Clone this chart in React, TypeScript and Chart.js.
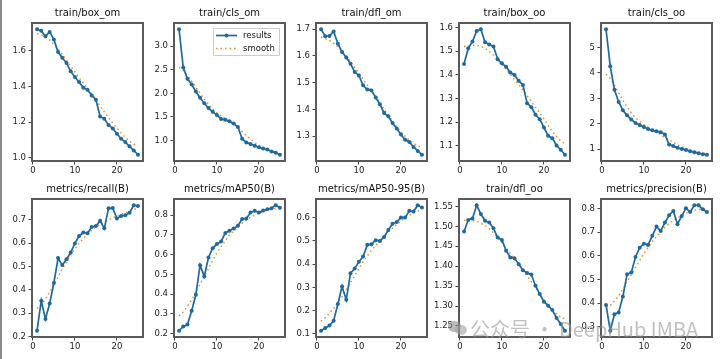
import React, { useEffect, useRef } from "react";
import { Chart, registerables } from "chart.js";
Chart.register(...registerables);

const epochs = [1, 2, 3, 4, 5, 6, 7, 8, 9, 10, 11, 12, 13, 14, 15, 16, 17, 18, 19, 20, 21, 22, 23, 24, 25];
const xTickValues = [0, 10, 20];

const boxOm = [1.722, 1.713, 1.683, 1.707, 1.664, 1.594, 1.562, 1.532, 1.486, 1.454, 1.425, 1.394, 1.382, 1.35, 1.326, 1.232, 1.219, 1.184, 1.165, 1.135, 1.107, 1.088, 1.064, 1.041, 1.017];
const boxOmSmooth = [1.697, 1.69, 1.678, 1.661, 1.638, 1.61, 1.58, 1.548, 1.515, 1.482, 1.45, 1.419, 1.389, 1.358, 1.325, 1.291, 1.257, 1.225, 1.194, 1.166, 1.139, 1.115, 1.093, 1.076, 1.066];

const clsOm = [3.36, 2.55, 2.31, 2.19, 2.04, 1.91, 1.79, 1.69, 1.61, 1.54, 1.46, 1.44, 1.41, 1.36, 1.29, 1.04, 0.96, 0.93, 0.89, 0.86, 0.83, 0.81, 0.77, 0.74, 0.7];
const clsOmSmooth = [2.55, 2.48, 2.38, 2.26, 2.13, 2.0, 1.88, 1.77, 1.67, 1.59, 1.52, 1.46, 1.4, 1.34, 1.27, 1.19, 1.11, 1.03, 0.96, 0.9, 0.85, 0.81, 0.77, 0.75, 0.73];

const dflOm = [1.7, 1.674, 1.675, 1.692, 1.646, 1.615, 1.594, 1.571, 1.54, 1.527, 1.49, 1.474, 1.471, 1.444, 1.419, 1.386, 1.374, 1.349, 1.328, 1.306, 1.286, 1.278, 1.259, 1.244, 1.23];
const dflOmSmooth = [1.67, 1.665, 1.658, 1.648, 1.634, 1.617, 1.598, 1.578, 1.557, 1.535, 1.513, 1.491, 1.469, 1.447, 1.424, 1.401, 1.378, 1.356, 1.335, 1.316, 1.299, 1.284, 1.272, 1.263, 1.258];

const boxOo = [1.445, 1.512, 1.54, 1.585, 1.592, 1.537, 1.528, 1.519, 1.465, 1.448, 1.434, 1.409, 1.399, 1.374, 1.357, 1.28, 1.263, 1.231, 1.212, 1.177, 1.142, 1.132, 1.101, 1.083, 1.062];
const boxOoSmooth = [1.519, 1.522, 1.525, 1.524, 1.52, 1.511, 1.498, 1.482, 1.463, 1.443, 1.423, 1.402, 1.38, 1.358, 1.335, 1.311, 1.287, 1.262, 1.238, 1.214, 1.186, 1.161, 1.139, 1.12, 1.108];

const clsOo = [5.72, 4.26, 3.34, 2.86, 2.53, 2.33, 2.17, 2.03, 1.95, 1.87, 1.79, 1.74, 1.7, 1.67, 1.58, 1.18, 1.12, 1.05, 1.01, 0.97, 0.92, 0.88, 0.84, 0.8, 0.78];
const clsOoSmooth = [3.95, 3.78, 3.52, 3.22, 2.93, 2.66, 2.43, 2.24, 2.09, 1.96, 1.86, 1.76, 1.66, 1.56, 1.46, 1.36, 1.26, 1.17, 1.09, 1.02, 0.96, 0.91, 0.87, 0.84, 0.83];

const recall = [0.224, 0.353, 0.274, 0.341, 0.429, 0.536, 0.506, 0.531, 0.56, 0.599, 0.631, 0.646, 0.643, 0.67, 0.674, 0.696, 0.664, 0.75, 0.751, 0.706, 0.717, 0.72, 0.731, 0.763, 0.76];
const recallSmooth = [0.32, 0.335, 0.36, 0.39, 0.42, 0.455, 0.49, 0.52, 0.55, 0.575, 0.6, 0.62, 0.64, 0.655, 0.67, 0.68, 0.69, 0.7, 0.71, 0.715, 0.725, 0.73, 0.738, 0.745, 0.748];

const map50 = [0.215, 0.237, 0.246, 0.316, 0.397, 0.547, 0.49, 0.586, 0.632, 0.654, 0.666, 0.71, 0.721, 0.733, 0.746, 0.78, 0.783, 0.813, 0.822, 0.813, 0.823, 0.83, 0.835, 0.85, 0.838];
const map50Smooth = [0.29, 0.31, 0.34, 0.37, 0.41, 0.45, 0.49, 0.53, 0.57, 0.61, 0.64, 0.67, 0.7, 0.72, 0.74, 0.76, 0.775, 0.79, 0.8, 0.81, 0.818, 0.825, 0.83, 0.833, 0.835];

const map5095 = [0.114, 0.126, 0.136, 0.157, 0.229, 0.304, 0.247, 0.361, 0.381, 0.41, 0.433, 0.483, 0.486, 0.503, 0.5, 0.517, 0.547, 0.574, 0.581, 0.6, 0.6, 0.629, 0.626, 0.653, 0.643];
const map5095Smooth = [0.155, 0.17, 0.19, 0.21, 0.235, 0.26, 0.29, 0.32, 0.35, 0.38, 0.41, 0.435, 0.46, 0.48, 0.5, 0.52, 0.54, 0.555, 0.57, 0.585, 0.6, 0.61, 0.62, 0.628, 0.632];

const dflOo = [1.487, 1.516, 1.52, 1.553, 1.531, 1.514, 1.51, 1.495, 1.472, 1.466, 1.439, 1.422, 1.42, 1.405, 1.39, 1.383, 1.379, 1.351, 1.33, 1.311, 1.301, 1.29, 1.27, 1.255, 1.238];
const dflOoSmooth = [1.515, 1.516, 1.515, 1.513, 1.508, 1.502, 1.494, 1.484, 1.472, 1.459, 1.446, 1.432, 1.418, 1.404, 1.39, 1.376, 1.361, 1.346, 1.331, 1.316, 1.302, 1.29, 1.28, 1.272, 1.268];

const precision = [0.393, 0.284, 0.354, 0.361, 0.428, 0.522, 0.529, 0.595, 0.634, 0.651, 0.646, 0.684, 0.723, 0.705, 0.74, 0.771, 0.789, 0.733, 0.768, 0.8, 0.785, 0.813, 0.813, 0.796, 0.785];
const precisionSmooth = [0.385, 0.39, 0.41, 0.43, 0.46, 0.49, 0.52, 0.55, 0.58, 0.61, 0.635, 0.66, 0.68, 0.7, 0.72, 0.735, 0.75, 0.76, 0.77, 0.78, 0.787, 0.792, 0.795, 0.797, 0.797];

const titles = [
  "train/box_om", "train/cls_om", "train/dfl_om", "train/box_oo", "train/cls_oo",
  "metrics/recall(B)", "metrics/mAP50(B)", "metrics/mAP50-95(B)", "train/dfl_oo", "metrics/precision(B)",
];
const yTickLabels = [
  ["1.0", "1.2", "1.4", "1.6"],
  ["1.0", "1.5", "2.0", "2.5", "3.0"],
  ["1.3", "1.4", "1.5", "1.6", "1.7"],
  ["1.1", "1.2", "1.3", "1.4", "1.5", "1.6"],
  ["1", "2", "3", "4", "5"],
  ["0.2", "0.3", "0.4", "0.5", "0.6", "0.7"],
  ["0.2", "0.3", "0.4", "0.5", "0.6", "0.7", "0.8"],
  ["0.1", "0.2", "0.3", "0.4", "0.5", "0.6"],
  ["1.25", "1.30", "1.35", "1.40", "1.45", "1.50", "1.55"],
  ["0.3", "0.4", "0.5", "0.6", "0.7", "0.8"],
];
const seriesList = [boxOm, clsOm, dflOm, boxOo, clsOo, recall, map50, map5095, dflOo, precision];
const smoothList = [boxOmSmooth, clsOmSmooth, dflOmSmooth, boxOoSmooth, clsOoSmooth, recallSmooth, map50Smooth, map5095Smooth, dflOoSmooth, precisionSmooth];

const BLUE = "#1d6a9f";
const ORANGE = "#f08a2a";
const FRAME = "#5a5a5a";
const FONT = "DejaVu Sans";
const PLOT_W = 111;
const PLOT_H = 138;
const YW = 31;
const PT = 20;
const PR = 4;
const XH = 16;
const plotLefts = [32, 174, 316, 459, 601];
const plotTops = [23, 199];

const framePlugin = {
  id: "frameTitle",
  afterDraw(chart: any) {
    const ctx = chart.ctx;
    const ca = chart.chartArea;
    const o = chart.options.plugins.frameTitle || {};
    const l = Math.round(ca.left);
    const t = Math.round(ca.top);
    const r = Math.round(ca.right);
    const b = Math.round(ca.bottom);
    ctx.save();
    ctx.setLineDash([]);
    ctx.fillStyle = FRAME;
    ctx.fillRect(l - 1, t - 1, r - l + 2, 2);
    ctx.fillRect(l - 1, b - 1, r - l + 2, 2);
    ctx.fillRect(l - 1, t - 1, 2, b - t + 2);
    ctx.fillRect(r - 1, t - 1, 2, b - t + 2);
    ctx.fillStyle = "#111";
    ctx.font = `10px "${FONT}"`;
    ctx.textAlign = "center";
    ctx.textBaseline = "middle";
    ctx.fillText(o.title || "", (ca.left + ca.right) / 2, ca.top - 10);
    if (o.legend) {
      const bx = r - 72;
      const by = t + 5;
      const bw = 66;
      const bh = 27;
      ctx.fillStyle = "rgba(255,255,255,0.85)";
      ctx.strokeStyle = "#cccccc";
      ctx.lineWidth = 1;
      ctx.beginPath();
      ctx.rect(bx + 0.5, by + 0.5, bw, bh);
      ctx.fill();
      ctx.stroke();
      const r1 = by + 7.5;
      const r2 = by + 20.5;
      ctx.strokeStyle = BLUE;
      ctx.lineWidth = 1.7;
      ctx.beginPath();
      ctx.moveTo(bx + 3, r1);
      ctx.lineTo(bx + 24, r1);
      ctx.stroke();
      ctx.fillStyle = BLUE;
      ctx.beginPath();
      ctx.arc(bx + 13.5, r1, 2, 0, Math.PI * 2);
      ctx.fill();
      ctx.strokeStyle = ORANGE;
      ctx.lineWidth = 1.5;
      ctx.setLineDash([1.5, 3]);
      ctx.beginPath();
      ctx.moveTo(bx + 3, r2);
      ctx.lineTo(bx + 24, r2);
      ctx.stroke();
      ctx.setLineDash([]);
      ctx.fillStyle = "#111";
      ctx.font = `8.5px "${FONT}"`;
      ctx.textAlign = "left";
      ctx.fillText("results", bx + 30, r1);
      ctx.fillText("smooth", bx + 30, r2);
    }
    ctx.restore();
  },
};

function Panel({ idx }: { idx: number }) {
  const ref = useRef<HTMLCanvasElement>(null);
  const col = idx % 5;
  const row = Math.floor(idx / 5);
  const cw = YW + PLOT_W + PR;
  const ch = PT + PLOT_H + XH;
  const left = plotLefts[col] - YW;
  const top = plotTops[row] - PT;
  useEffect(() => {
    const ys = seriesList[idx];
    const ss = smoothList[idx];
    const all = [...ys, ...ss];
    const lo = Math.min(...all);
    const hi = Math.max(...all);
    const m = (hi - lo) * 0.05;
    const labels = yTickLabels[idx];
    const tickFont = { family: FONT, size: 8.5 };
    const chart = new Chart(ref.current as HTMLCanvasElement, {
      type: "line",
      data: {
        datasets: [
          {
            label: "results",
            data: epochs.map((x, i) => ({ x, y: ys[i] })),
            borderColor: BLUE,
            backgroundColor: BLUE,
            borderWidth: 1.7,
            pointRadius: 2,
            pointBorderWidth: 0,
            pointBackgroundColor: BLUE,
            fill: false,
            tension: 0,
          },
          {
            label: "smooth",
            data: epochs.map((x, i) => ({ x, y: ss[i] })),
            borderColor: ORANGE,
            borderWidth: 1.5,
            borderDash: [1.5, 3],
            pointRadius: 0,
            fill: false,
            tension: 0,
          },
        ],
      },
      options: {
        animation: false,
        responsive: false,
        events: [],
        layout: { padding: { top: PT, right: PR, left: 0, bottom: 0 } },
        plugins: {
          legend: { display: false },
          tooltip: { enabled: false },
          title: { display: false },
          frameTitle: { title: titles[idx], legend: idx === 1 },
        } as any,
        scales: {
          x: {
            type: "linear",
            min: -0.2,
            max: 26.2,
            afterBuildTicks: (s: any) => {
              s.ticks = xTickValues.map((v) => ({ value: v }));
            },
            afterFit: (s: any) => {
              s.height = XH;
            },
            ticks: { font: tickFont, color: "#222", padding: 1.5, autoSkip: false, maxRotation: 0, callback: (v: any) => String(v) },
            grid: { display: true, drawOnChartArea: false, drawTicks: true, tickLength: 3.5, color: "#444", lineWidth: 1 },
            border: { display: false },
          },
          y: {
            type: "linear",
            min: lo - m,
            max: hi + m,
            afterBuildTicks: (s: any) => {
              s.ticks = labels.map((l) => ({ value: parseFloat(l) }));
            },
            afterFit: (s: any) => {
              s.width = YW;
            },
            ticks: {
              font: tickFont,
              color: "#222",
              padding: 2.5,
              autoSkip: false,
              callback: (v: any) => {
                const f = labels.find((l) => Math.abs(parseFloat(l) - v) < 1e-9);
                return f ?? String(v);
              },
            },
            grid: { display: true, drawOnChartArea: false, drawTicks: true, tickLength: 3.5, color: "#444", lineWidth: 1 },
            border: { display: false },
          },
        },
      } as any,
      plugins: [framePlugin as any],
    });
    return () => chart.destroy();
  }, [idx]);
  return (
    <canvas
      ref={ref}
      width={cw}
      height={ch}
      style={{ position: "absolute", left, top, width: cw, height: ch }}
    />
  );
}

export default function App() {
  return (
    <div style={{ position: "fixed", left: 0, top: 0, width: 720, height: 359, background: "#fff", overflow: "hidden" }}>
      <div style={{ position: "absolute", left: 0, top: 0, width: 2, height: 359, background: "#8a8a8a" }} />
      {titles.map((_, i) => (
        <Panel key={i} idx={i} />
      ))}
      <div style={{ position: "absolute", left: 448, top: 321, width: 20, height: 14, zIndex: 5 }}>
        <div style={{ position: "absolute", left: 0, top: 0, width: 13, height: 11, borderRadius: "50%", background: "rgba(140,140,140,0.6)" }} />
        <div style={{ position: "absolute", left: 7, top: 4, width: 12, height: 10, borderRadius: "50%", background: "rgba(160,160,160,0.6)" }} />
      </div>
      <div
        style={{
          position: "absolute",
          left: 470,
          top: 316,
          fontFamily: '"Noto Sans CJK SC", "Noto Sans", sans-serif',
          fontSize: 20,
          lineHeight: "26px",
          color: "rgba(150,150,150,0.6)",
          whiteSpace: "nowrap",
          zIndex: 5,
        }}
      >
        公众号 · DeepHub IMBA
      </div>
    </div>
  );
}
